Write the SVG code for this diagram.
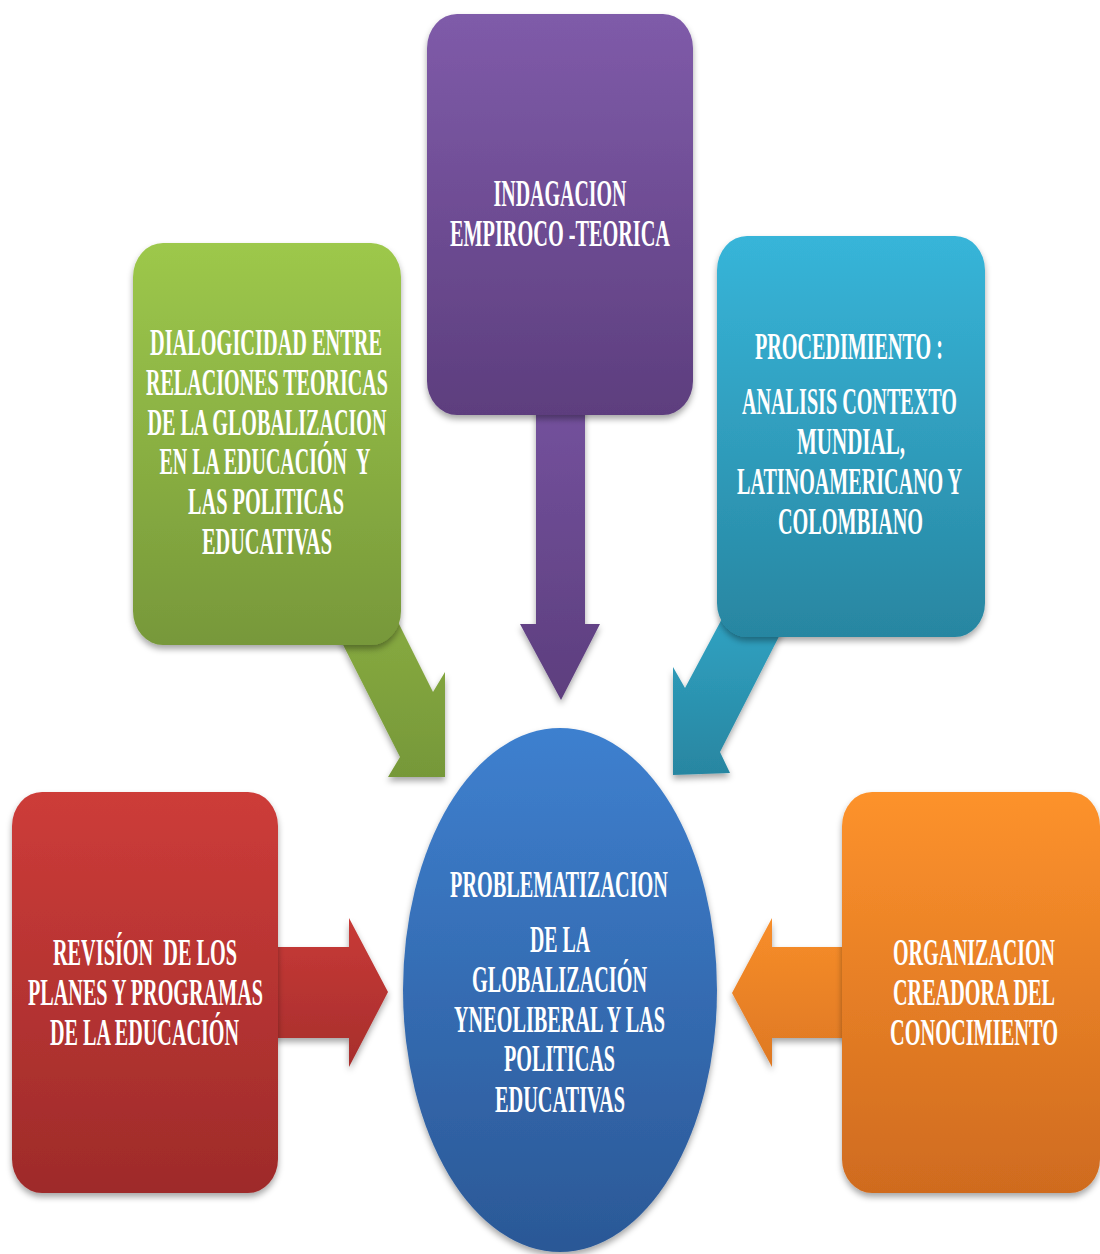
<svg xmlns="http://www.w3.org/2000/svg" width="1100" height="1254" viewBox="0 0 1100 1254">
  <defs>
    <linearGradient id="gGreen" x1="0" y1="0" x2="0" y2="1">
      <stop offset="0" stop-color="#9dc84b"/>
      <stop offset="1" stop-color="#77983a"/>
    </linearGradient>
    <linearGradient id="gPurple" x1="0" y1="0" x2="0" y2="1">
      <stop offset="0" stop-color="#7f5ba9"/>
      <stop offset="1" stop-color="#5d3e7e"/>
    </linearGradient>
    <linearGradient id="gTeal" x1="0" y1="0" x2="0" y2="1">
      <stop offset="0" stop-color="#37b5d9"/>
      <stop offset="1" stop-color="#2886a1"/>
    </linearGradient>
    <linearGradient id="gRed" x1="0" y1="0" x2="0" y2="1">
      <stop offset="0" stop-color="#cd3c39"/>
      <stop offset="1" stop-color="#9e2b2a"/>
    </linearGradient>
    <linearGradient id="gOrange" x1="0" y1="0" x2="0" y2="1">
      <stop offset="0" stop-color="#fd922c"/>
      <stop offset="1" stop-color="#cf6b1f"/>
    </linearGradient>
    <linearGradient id="gBlue" x1="0" y1="0" x2="0" y2="1">
      <stop offset="0" stop-color="#3e80cf"/>
      <stop offset="1" stop-color="#2b5896"/>
    </linearGradient>
    <linearGradient id="gPurpleArrow" gradientUnits="userSpaceOnUse" x1="0" y1="410" x2="0" y2="700">
      <stop offset="0" stop-color="#73519c"/>
      <stop offset="1" stop-color="#5d3e7e"/>
    </linearGradient>
    <linearGradient id="gGreenArrow" gradientUnits="userSpaceOnUse" x1="0" y1="620" x2="0" y2="777">
      <stop offset="0" stop-color="#87aa40"/>
      <stop offset="1" stop-color="#769839"/>
    </linearGradient>
    <linearGradient id="gTealArrow" gradientUnits="userSpaceOnUse" x1="0" y1="615" x2="0" y2="775">
      <stop offset="0" stop-color="#30a2c2"/>
      <stop offset="1" stop-color="#2886a1"/>
    </linearGradient>
    <linearGradient id="gRedArrow" gradientUnits="userSpaceOnUse" x1="0" y1="918" x2="0" y2="1067">
      <stop offset="0" stop-color="#c83a37"/>
      <stop offset="1" stop-color="#a72e2c"/>
    </linearGradient>
    <linearGradient id="gOrangeArrow" gradientUnits="userSpaceOnUse" x1="0" y1="918" x2="0" y2="1067">
      <stop offset="0" stop-color="#f88e2a"/>
      <stop offset="1" stop-color="#de7823"/>
    </linearGradient>
    <filter id="shadow" x="-10%" y="-10%" width="120%" height="125%">
      <feDropShadow dx="0" dy="4" stdDeviation="3" flood-color="#000" flood-opacity="0.35"/>
    </filter>
  </defs>
  <style>
    .lbl { font-family: "Liberation Serif", "Times New Roman", serif; font-weight: bold; font-size: 38px; fill: #ffffff; text-anchor: middle; white-space: pre; }
    .box { filter: url(#shadow); }
    .arrow { filter: url(#shadow); }
  </style>
  <rect width="1100" height="1254" fill="#ffffff"/>

  <g id="connectors">
    <polygon class="arrow" fill="url(#gPurpleArrow)" points="536,405 585,405 585,624 600,624 561,700 520,624 536,624"/>
    <polygon class="arrow" fill="url(#gGreenArrow)" points="333,625 400,757 388,777 445,777 445,672 433,692 397,620"/>
    <polygon class="arrow" fill="url(#gTealArrow)" points="724,615 685,688 673,667 673,775 730,773 720,752 790,615"/>
    <polygon class="arrow" fill="url(#gRedArrow)" points="270,947 349,947 349,918 388,992 349,1067 349,1038 270,1038"/>
    <polygon class="arrow" fill="url(#gOrangeArrow)" points="850,947 772,947 772,918 732,993 772,1067 772,1038 850,1038"/>
  </g>

  <g id="node-indagacion">
    <rect class="box" x="427" y="14" width="266" height="401" rx="30" ry="34" fill="url(#gPurple)"/>
    <g transform="scale(0.53,1)">
      <text class="lbl" x="1056.60" y="206" textLength="250.94" lengthAdjust="spacingAndGlyphs">INDAGACION</text>
      <text class="lbl" x="1056.60" y="246" textLength="415.09" lengthAdjust="spacingAndGlyphs">EMPIROCO -TEORICA</text>
    </g>
  </g>

  <g id="node-dialogicidad">
    <rect class="box" x="133" y="243" width="268" height="402" rx="30" ry="34" fill="url(#gGreen)"/>
    <g transform="scale(0.53,1)">
      <text class="lbl" x="501.89" y="355" textLength="437.74" lengthAdjust="spacingAndGlyphs">DIALOGICIDAD ENTRE</text>
      <text class="lbl" x="503.77" y="395" textLength="456.60" lengthAdjust="spacingAndGlyphs">RELACIONES TEORICAS</text>
      <text class="lbl" x="503.77" y="435" textLength="450.94" lengthAdjust="spacingAndGlyphs">DE LA GLOBALIZACION</text>
      <text class="lbl" x="500.00" y="474" textLength="398.11" lengthAdjust="spacingAndGlyphs">EN LA EDUCACIÓN  Y</text>
      <text class="lbl" x="501.89" y="514" textLength="294.34" lengthAdjust="spacingAndGlyphs">LAS POLITICAS</text>
      <text class="lbl" x="503.77" y="554" textLength="245.28" lengthAdjust="spacingAndGlyphs">EDUCATIVAS</text>
    </g>
  </g>

  <g id="node-procedimiento">
    <rect class="box" x="717" y="236" width="268" height="401" rx="30" ry="34" fill="url(#gTeal)"/>
    <g transform="scale(0.53,1)">
      <text class="lbl" x="1601.89" y="359" textLength="354.72" lengthAdjust="spacingAndGlyphs">PROCEDIMIENTO :</text>
      <text class="lbl" x="1602.83" y="414" textLength="405.66" lengthAdjust="spacingAndGlyphs">ANALISIS CONTEXTO</text>
      <text class="lbl" x="1605.66" y="454" textLength="203.77" lengthAdjust="spacingAndGlyphs">MUNDIAL,</text>
      <text class="lbl" x="1602.83" y="494" textLength="424.53" lengthAdjust="spacingAndGlyphs">LATINOAMERICANO Y</text>
      <text class="lbl" x="1604.72" y="534" textLength="273.58" lengthAdjust="spacingAndGlyphs">COLOMBIANO</text>
    </g>
  </g>

  <g id="node-revision">
    <rect class="box" x="12" y="792" width="266" height="401" rx="30" ry="34" fill="url(#gRed)"/>
    <g transform="scale(0.53,1)">
      <text class="lbl" x="273.58" y="965" textLength="347.17" lengthAdjust="spacingAndGlyphs">REVISÍON  DE LOS</text>
      <text class="lbl" x="274.53" y="1005" textLength="443.40" lengthAdjust="spacingAndGlyphs">PLANES Y PROGRAMAS</text>
      <text class="lbl" x="272.64" y="1045" textLength="356.60" lengthAdjust="spacingAndGlyphs">DE LA EDUCACIÓN</text>
    </g>
  </g>

  <g id="node-organizacion">
    <rect class="box" x="842" y="792" width="258" height="401" rx="30" ry="34" fill="url(#gOrange)"/>
    <g transform="scale(0.53,1)">
      <text class="lbl" x="1837.74" y="965" textLength="305.66" lengthAdjust="spacingAndGlyphs">ORGANIZACION</text>
      <text class="lbl" x="1837.74" y="1005" textLength="305.66" lengthAdjust="spacingAndGlyphs">CREADORA DEL</text>
      <text class="lbl" x="1837.74" y="1045" textLength="316.98" lengthAdjust="spacingAndGlyphs">CONOCIMIENTO</text>
    </g>
  </g>

  <g id="node-problematizacion">
    <ellipse class="box" cx="560" cy="990" rx="157" ry="262" fill="url(#gBlue)"/>
    <g transform="scale(0.53,1)">
      <text class="lbl" x="1054.72" y="897" textLength="411.32" lengthAdjust="spacingAndGlyphs">PROBLEMATIZACION</text>
      <text class="lbl" x="1056.60" y="952" textLength="113.21" lengthAdjust="spacingAndGlyphs">DE LA</text>
      <text class="lbl" x="1055.66" y="992" textLength="330.19" lengthAdjust="spacingAndGlyphs">GLOBALIZACIÓN</text>
      <text class="lbl" x="1055.66" y="1032" textLength="398.11" lengthAdjust="spacingAndGlyphs">YNEOLIBERAL Y LAS</text>
      <text class="lbl" x="1055.66" y="1071" textLength="209.43" lengthAdjust="spacingAndGlyphs">POLITICAS</text>
      <text class="lbl" x="1056.60" y="1112" textLength="245.28" lengthAdjust="spacingAndGlyphs">EDUCATIVAS</text>
    </g>
  </g>
</svg>
